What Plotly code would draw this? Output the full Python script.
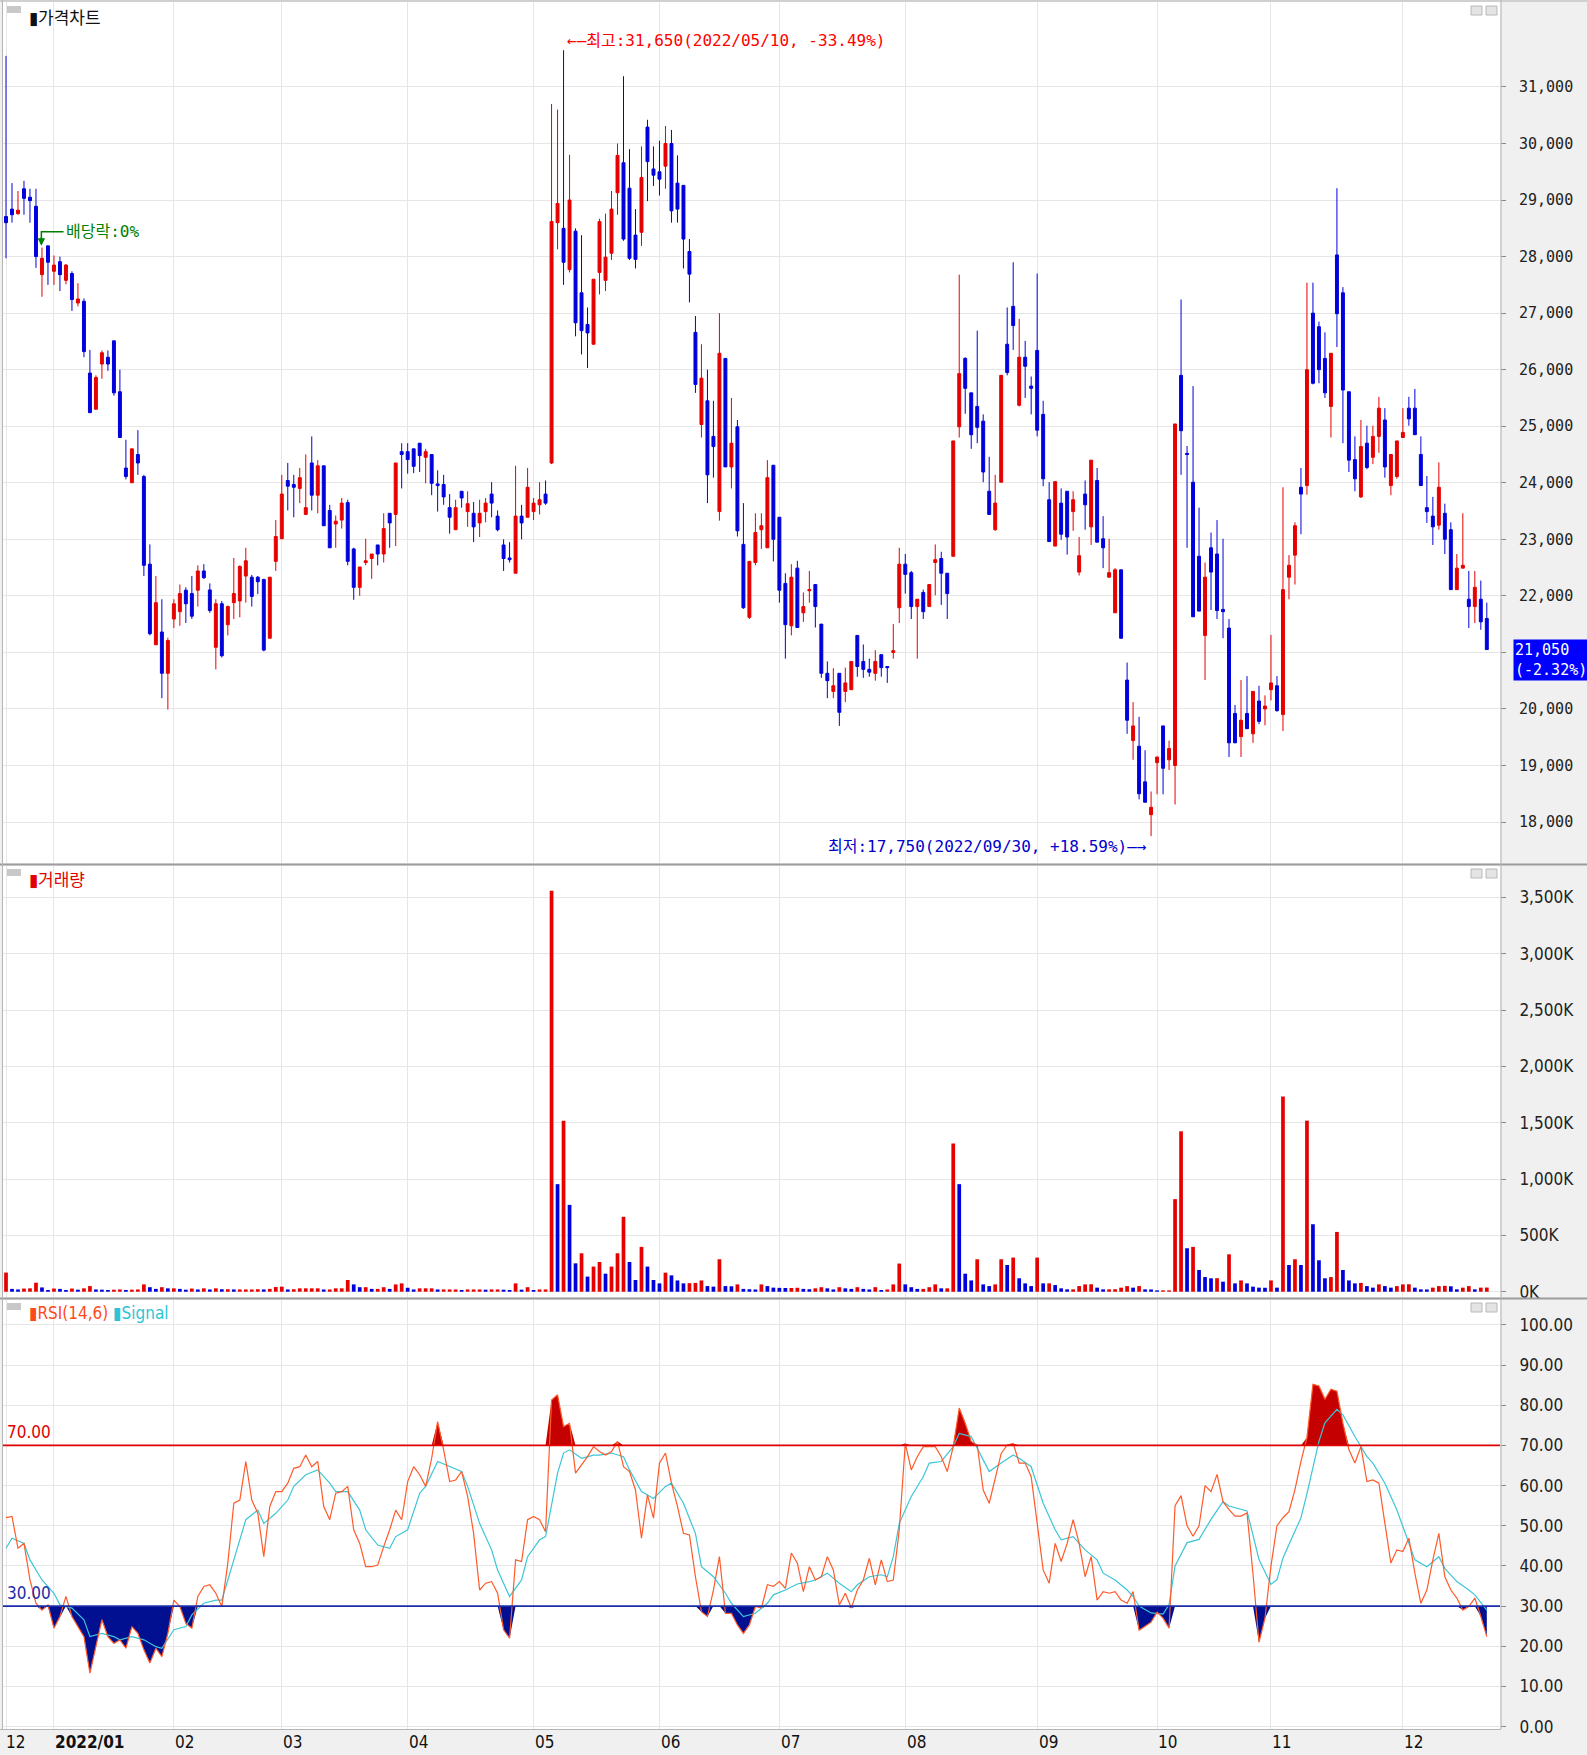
import numpy as np
import plotly.graph_objects as go

# ---------------- DATA ----------------
open_ = [
    28710, 28840, 28760, 29200, 29050, 28890, 27680, 28190, 27740, 27910,
    27580, 27700, 27180, 27210, 25940, 25300, 26100, 26220, 26510, 25610,
    24260, 24000, 24500, 24110, 22560, 21135, 21360, 20630, 21590, 21720,
    22100, 22040, 22100, 22440, 22105, 21090, 21860, 21490, 21880, 21910,
    22350, 22330, 22330, 22290, 21250, 22610, 23010, 24040, 23970, 23900,
    23440, 24350, 23780, 24300, 23510, 23270, 23340, 23650, 22830, 22150,
    22590, 22660, 22900, 22740, 23460, 23440, 24550, 24550, 24600, 24700,
    24450, 24500, 23980, 23970, 23560, 23170, 23850, 23490, 23460, 23290,
    23490, 23800, 23410, 22900, 22670, 22400, 23410, 23390, 23490, 23610,
    23800, 24350, 28600, 28500, 27770, 28450, 27360, 26800, 26450, 27720,
    27580, 28060, 29130, 29660, 29210, 28380, 28430, 30290, 29550, 29500,
    29600, 30000, 29300, 29260, 28090, 26660, 25030, 25450, 24820, 23490,
    26200, 24280, 24990, 22910, 21620, 22590, 23170, 22850, 24310, 23390,
    22220, 21470, 22490, 21700, 22090, 22200, 21500, 20630, 20310, 20630,
    20310, 20340, 21300, 20840, 20700, 20630, 20960, 20750, 21000, 21790,
    22560, 22410, 21810, 22060, 21810, 22590, 22660, 22400, 22700, 24990,
    26200, 25590, 25350, 25090, 23850, 23170, 24010, 26450, 27120, 25370,
    26220, 25710, 26340, 25210, 23700, 22880, 23640, 23850, 23490, 22420,
    23800, 23220, 24040, 23010, 22330, 21700, 22460, 20510, 19440, 19340,
    18710, 18130, 19050, 19700, 19100, 19000, 25900, 24520, 24010, 22700,
    21300, 22850, 22740, 21760, 21430, 19920, 19510, 19920, 19560, 20140,
    20000, 20340, 20410, 19900, 22330, 22720, 23920, 23950, 27000, 26760,
    26200, 25350, 28030, 27360, 25610, 24410, 23750, 24700, 24450, 24820,
    25110, 23950, 24110, 24800, 25320, 25320, 24500, 23560, 23410, 23250,
    23460, 23170, 22110, 22490, 21940, 21810, 21940, 21600,
]
high = [
    31550, 29300, 29160, 29340, 29200, 29200, 28160, 28190, 28020, 28000,
    27870, 27740, 27530, 27260, 26350, 25900, 26340, 26340, 26510, 26000,
    24760, 24600, 24930, 24140, 22910, 22350, 21940, 21260, 21940, 22200,
    22150, 22350, 22540, 22560, 22220, 21940, 21910, 21830, 22670, 22540,
    22850, 22370, 22350, 22300, 22330, 23340, 24140, 24350, 24140, 24260,
    24500, 24820, 24400, 24300, 23610, 23420, 23730, 23700, 22850, 22510,
    23010, 22740, 22900, 23460, 23460, 24350, 24700, 24700, 24600, 24700,
    24600, 24500, 24220, 24140, 23800, 23700, 23850, 23850, 23660, 23700,
    23730, 24010, 23510, 23000, 22950, 24300, 23610, 24260, 23730, 24010,
    24040, 30700, 30600, 31650, 29800, 28500, 28380, 27100, 27600, 28670,
    28760, 29160, 30000, 31190, 29900, 28840, 29950, 30420, 29950, 30050,
    30310, 30240, 29790, 29260, 28310, 26950, 26450, 26000, 25450, 27000,
    26200, 25500, 25110, 23640, 22610, 23460, 23460, 24400, 24310, 23390,
    22400, 22560, 22620, 22060, 22440, 22200, 21500, 20840, 20720, 20630,
    20730, 20840, 21300, 21140, 20890, 21040, 20960, 20750, 21500, 22850,
    22740, 22440, 21940, 22110, 22200, 22910, 22780, 22400, 24740, 27680,
    26220, 25590, 26690, 25210, 24460, 24140, 25900, 27100, 27900, 26900,
    26510, 25880, 27700, 25450, 24010, 24020, 23900, 23850, 23850, 23040,
    24040, 24400, 24260, 23410, 23010, 22490, 22460, 20820, 20120, 19860,
    19270, 18540, 19150, 19700, 19440, 25040, 27240, 24650, 25710, 23560,
    22590, 23120, 23340, 23010, 21590, 20070, 20510, 20580, 20310, 20410,
    20240, 21310, 20580, 23920, 22720, 23300, 24260, 27540, 27540, 26850,
    26660, 26290, 29210, 27460, 25610, 24820, 25110, 25010, 25010, 25520,
    25320, 24500, 24740, 25320, 25520, 25660, 24820, 24120, 23750, 24360,
    23630, 23300, 22740, 23460, 22440, 22440, 22270, 21880,
]
low = [
    27970, 28600, 28740, 28740, 28600, 27800, 27290, 27500, 27500, 27390,
    27510, 27040, 27120, 26220, 25240, 25300, 25840, 25980, 25540, 24800,
    24060, 24000, 24140, 22350, 21300, 21135, 20190, 19990, 21430, 21470,
    21520, 21590, 21810, 22300, 21700, 20700, 20910, 21300, 21590, 21620,
    21880, 21810, 22030, 21020, 21250, 22440, 23010, 23510, 23390, 23640,
    23440, 23510, 23460, 23240, 22850, 22850, 23190, 22540, 21930, 22000,
    22540, 22300, 22540, 22590, 22850, 22880, 23900, 24160, 24170, 24190,
    23990, 23780, 23490, 23610, 23100, 23170, 23560, 23220, 22950, 23040,
    23300, 23390, 23140, 22440, 22590, 22400, 23000, 23390, 23340, 23440,
    23610, 24330, 28130, 27500, 27720, 26590, 26270, 26030, 26450, 27330,
    27390, 27940, 28740, 28280, 27940, 27790, 28190, 28980, 29250, 29080,
    29200, 28600, 28600, 27790, 27190, 25590, 24800, 23640, 24090, 23330,
    24280, 23900, 23050, 21770, 21590, 22540, 22830, 22850, 22610, 21880,
    20890, 21300, 21440, 21540, 21880, 21440, 20550, 20190, 20190, 19700,
    20120, 20340, 20570, 20550, 20570, 20500, 20570, 20460, 20890, 21520,
    22040, 21590, 20890, 21590, 21810, 22010, 21840, 21590, 22700, 24800,
    25220, 24600, 24700, 24010, 23440, 23150, 24010, 25900, 26350, 25350,
    25500, 25210, 24820, 23940, 22960, 22880, 22990, 22730, 23150, 22360,
    23170, 22900, 22950, 22490, 22330, 21700, 21250, 19560, 19100, 18400,
    18350, 17750, 18490, 18490, 18920, 18310, 24140, 22850, 21630, 21730,
    20510, 21750, 21590, 21250, 19150, 19400, 19150, 19650, 19400, 19730,
    19710, 20150, 19950, 19610, 21940, 22200, 23090, 23790, 25740, 25760,
    25500, 24800, 26400, 24700, 24190, 23850, 23730, 24240, 24330, 24530,
    24090, 23780, 24070, 24800, 25010, 24850, 23950, 23290, 22900, 23170,
    22740, 22110, 22110, 22490, 21430, 21520, 21400, 21050,
]
close = [
    28600, 28740, 28820, 29030, 28990, 28000, 27970, 27900, 27850, 27680,
    27850, 27240, 27250, 26320, 25240, 25860, 26300, 26100, 25590, 24800,
    24110, 24600, 24350, 22540, 21330, 21880, 20630, 21210, 21860, 22040,
    21860, 21640, 22440, 22320, 21740, 21860, 20940, 21810, 22040, 22520,
    22620, 21990, 22250, 21040, 22330, 23050, 23800, 23940, 23920, 24090,
    23560, 23780, 24300, 23240, 22850, 23320, 23640, 22610, 22150, 22510,
    22620, 22740, 22740, 23190, 23290, 24350, 24500, 24410, 24290, 24480,
    24550, 23990, 23950, 23750, 23390, 23560, 23730, 23630, 23220, 23460,
    23640, 23640, 23170, 22660, 22640, 23410, 23290, 23920, 23640, 23700,
    23640, 28620, 28940, 27900, 29000, 26830, 26690, 26650, 27600, 28620,
    27990, 28840, 29790, 28310, 27970, 27950, 29400, 29680, 29440, 29370,
    30000, 28810, 28840, 28310, 27690, 25740, 25850, 24140, 24640, 26290,
    24280, 24700, 23150, 21790, 22610, 23120, 23240, 24090, 23000, 22100,
    21490, 22330, 21440, 21810, 22110, 21810, 20630, 20500, 20410, 19940,
    20460, 20840, 20750, 20700, 20650, 20840, 20730, 20730, 21030, 22560,
    22380, 21810, 21940, 21720, 22200, 22640, 22400, 22040, 24740, 25930,
    25670, 24850, 24980, 24190, 23440, 23640, 25900, 25950, 26780, 26220,
    26060, 25670, 24930, 24070, 22960, 24020, 23090, 23040, 23700, 22710,
    23610, 24400, 22950, 22850, 22410, 22460, 21250, 19800, 19700, 18500,
    18350, 18260, 19150, 18950, 19300, 25040, 24920, 24500, 21630, 21730,
    22330, 22420, 21740, 21720, 19400, 19400, 19800, 19650, 20310, 19780,
    20050, 20460, 19970, 22110, 22540, 23240, 23800, 26000, 25760, 26000,
    25590, 26290, 26990, 25640, 24400, 24070, 24640, 24270, 24820, 25320,
    24280, 24500, 24740, 24890, 25130, 24850, 23950, 23490, 23220, 23920,
    23000, 22110, 22490, 22540, 21810, 22150, 21540, 21050,
]
volume_k = [
    170, 25, 20, 28, 30, 80, 38, 15, 28, 25,
    15, 28, 18, 30, 50, 20, 18, 15, 18, 20,
    15, 18, 20, 65, 40, 25, 40, 30, 30, 25,
    18, 28, 20, 30, 20, 30, 22, 22, 20, 20,
    20, 20, 22, 20, 25, 42, 45, 20, 22, 30,
    30, 30, 30, 20, 20, 30, 30, 104, 65, 40,
    40, 25, 25, 40, 25, 65, 74, 35, 20, 30,
    30, 30, 20, 20, 20, 20, 15, 20, 20, 20,
    18, 20, 20, 18, 15, 74, 18, 40, 15, 20,
    20, 3560, 955, 1519, 771, 252, 341, 134, 223, 264,
    160, 223, 341, 665, 264, 104, 398, 223, 104, 74,
    169, 145, 100, 74, 76, 78, 100, 50, 45, 288,
    50, 48, 65, 25, 22, 20, 65, 50, 36, 34,
    33, 33, 35, 25, 22, 30, 40, 30, 20, 40,
    30, 25, 40, 25, 20, 40, 15, 20, 65, 250,
    65, 40, 25, 25, 40, 65, 30, 30, 1317, 955,
    160, 100, 288, 65, 50, 65, 288, 237, 303, 119,
    74, 50, 303, 74, 74, 59, 30, 21, 21, 50,
    65, 66, 36, 21, 21, 22, 36, 50, 36, 50,
    21, 20, 12, 12, 12, 822, 1424, 386, 398, 193,
    130, 119, 120, 89, 332, 74, 100, 74, 45, 36,
    35, 100, 36, 1733, 237, 288, 237, 1519, 599, 279,
    119, 130, 531, 193, 100, 74, 78, 50, 36, 65,
    50, 36, 50, 65, 66, 36, 21, 20, 36, 50,
    52, 48, 21, 36, 50, 21, 36, 37,
]
rsi = [
    52, 52.3, 44.4, 45.6, 36.5, 30.7, 29, 30.3, 24.5, 27.4,
    32.4, 27.4, 24.9, 22.4, 13.3, 19.9, 26.6, 22.4, 20.7, 21.6,
    19.5, 24.9, 23.2, 19.1, 15.8, 19.5, 17.4, 23.2, 31.5, 29.9,
    25.7, 24.5, 32.4, 34.9, 35.3, 33.2, 29.9, 40.7, 55.6, 56.4,
    66, 56.4, 53.1, 42.3, 54.8, 58.5, 58.5, 60.6, 64.3, 64.7,
    67.6, 64.7, 66, 54.8, 51.5, 58.1, 58.5, 59.8, 49, 45.6,
    39.8, 39.8, 40.2, 44.8, 49, 53.9, 51.5, 61, 64.7, 62.7,
    59.8, 66.8, 75.9, 68.9, 61, 61.4, 63.5, 57.3, 48.1, 34,
    35.7, 36.1, 33.2, 24.1, 22, 41.5, 41.1, 51.5, 52.3, 51.5,
    48.5, 81.3, 82.6, 74.7, 75.5, 63.1, 65.1, 67.2, 69.7, 68.5,
    67.6, 68.5, 71, 64.7, 63.5, 58.9, 46.9, 57.7, 51.9, 65.6,
    68.1, 60.6, 54.8, 48.1, 47.7, 37.3, 28.6, 27.4, 34, 42.3,
    28.2, 28.2, 25.3, 23.2, 25.3, 29.9, 29.5, 35.3, 34.9, 36.1,
    34.4, 43.2, 40.7, 33.6, 39.8, 36.5, 37.3, 42.3, 39, 30.3,
    33.2, 29.5, 34, 36.5, 41.9, 35.3, 41.5, 36.1, 36.5, 49,
    70.5, 63.9, 67.2, 69.7, 69.7, 69.7, 67.2, 63.5, 69.7, 79.3,
    75.5, 71, 70.1, 58.9, 55.6, 62.2, 68, 70.1, 70.5, 65.6,
    65.6, 62.2, 50.6, 39, 35.7, 45.6, 41.1, 45.6, 51.5, 45.6,
    37.3, 42.3, 31.5, 33.6, 33.2, 33.6, 31.5, 30.7, 33.6, 24,
    25, 26, 28.5, 27, 24.5, 55, 57.5, 50, 47.4, 50,
    60, 58.5, 62.8, 56, 54, 52.4, 52.4, 53.2, 38, 21,
    27, 40, 50, 52, 53.5, 59, 66, 72, 85.2, 84.8,
    81.5, 84, 83.5, 75.5, 68.9, 65.6, 69.7, 61, 61.4, 60.6,
    50.6, 40.7, 44, 43.6, 46.9, 38.2, 30.7, 34, 41.5, 48.1,
    37.3, 34, 32, 29, 29.9, 32, 27.4, 22.4,
]
signal_idx = [
    0, 1, 3, 4, 6, 8, 9, 11, 13, 14, 16, 18, 19, 21, 23, 25, 26, 28, 30, 31,
    33, 35, 36, 38, 40, 42, 43, 45, 47, 48, 50, 52, 54, 55, 57, 59, 60, 62, 64, 65,
    67, 69, 70, 72, 74, 76, 77, 79, 81, 82, 84, 86, 87, 89, 90, 92, 93, 94, 96, 98,
    99, 101, 103, 104, 106, 108, 110, 111, 113, 115, 116, 118, 120, 121, 123, 125, 127, 128, 130, 132,
    134, 135, 137, 139, 141, 142, 144, 146, 147, 148, 149, 151, 153, 154, 156, 158, 159, 161, 163, 164,
    166, 168, 169, 171, 173, 175, 176, 178, 180, 182, 183, 185, 187, 188, 189, 191, 193, 194, 195, 197,
    199, 201, 203, 204, 207, 209, 211, 212, 213, 216, 217, 219, 220, 222, 223, 225, 227, 228, 230, 232,
    233, 235, 237, 239, 240, 242, 244, 245, 247,
]
signal_val = [
    44.4, 46.9, 45.6, 41.5, 36.5, 33.2, 30.3, 29.5, 26.6, 22.4, 23.2, 22.4, 21.6, 22.4, 21.6, 19.9, 19.5, 24.1, 24.9, 27.8,
    30.7, 31.5, 31.5, 41.5, 51.5, 53.9, 50.6, 53.1, 56.4, 59.8, 62.7, 63.9, 60.6, 58.5, 58.5, 53.9, 49, 45.2, 44.4, 47.3,
    49, 58.1, 59.8, 66, 64.7, 63.5, 59.8, 50.6, 44, 39, 32.4, 36.5, 42.3, 46.5, 47.3, 63.1, 68.1, 68.9, 66.8, 67.6,
    67.6, 68.1, 67.2, 63.9, 58.5, 56.8, 59.8, 60.6, 55.6, 48.1, 39.8, 37.3, 33.2, 30.7, 27.4, 28.2, 30.7, 32.8, 34, 35.5,
    36.1, 36.5, 38.2, 35.7, 33.6, 35.3, 37.3, 37.8, 37.3, 42.3, 50.6, 57.3, 62.2, 65.6, 66, 69.7, 73, 72.2, 66.4, 63.5,
    65.6, 67.6, 66.8, 64.7, 55.6, 49, 46.5, 47.3, 44, 41.5, 38.2, 36.5, 34, 32.4, 30, 28.3, 28, 30.4, 40, 45.8,
    46.6, 51.6, 56, 54.9, 53.7, 41.6, 35.4, 36.6, 42, 52, 58, 71, 75.6, 79, 77.6, 72.2, 67.2, 65.6, 60.6, 53.9,
    49.8, 41.5, 39.8, 42.3, 39.4, 36.1, 34, 32.8, 29,
]
month_idx = [0, 8, 28, 46, 67, 88, 109, 129, 150, 172, 192, 211, 233]
month_labels = ["12", "2022/01", "02", "03", "04", "05", "06", "07", "08", "09", "10", "11", "12"]
price_ticks = list(range(18000, 31001, 1000))
volume_ticks_k = list(range(0, 3501, 500))
rsi_ticks = list(range(0, 101, 10))
last_price = 21050
last_change_pct = -2.32

# ---------------- STYLE / GEOMETRY ----------------
RED = "#e60000"
BLUE = "#0000dc"
GRID = "#e6e6e6"
MONO = "DejaVu Sans Mono, Noto Sans CJK KR, monospace"
COND = "DejaVu Sans Condensed, DejaVu Sans, sans-serif"
KR = "Noto Sans CJK KR, sans-serif"

W, H = 1587, 1755
ML, MR, MT, MB = 3, 87, 2, 26
PW = W - ML - MR
PH = H - MT - MB


def PX(fx):
    return (fx - ML) / PW


def PY(fy):
    return (H - MB - fy) / PH


n = len(close)
idx = list(range(n))
XR = [-0.5, 249.2]

fig = go.Figure()

# price candles
fig.add_trace(go.Candlestick(
    x=idx, open=open_, high=high, low=low, close=close,
    xaxis="x", yaxis="y",
    increasing=dict(line=dict(color=RED, width=1), fillcolor=RED),
    decreasing=dict(line=dict(color=BLUE, width=1), fillcolor=BLUE),
    whiskerwidth=0, hoverinfo="skip", showlegend=False,
))

# volume bars (red when volume rose vs previous day, blue when it fell)
vcolors = [RED if (i == 0 or volume_k[i] >= volume_k[i - 1]) else BLUE for i in range(n)]
fig.add_trace(go.Bar(
    x=idx, y=volume_k, marker=dict(color=vcolors, line=dict(width=0)),
    width=0.62, xaxis="x2", yaxis="y2", hoverinfo="skip", showlegend=False,
))

# RSI fills
rsi_arr = np.array(rsi, dtype=float)
fig.add_trace(go.Scatter(x=idx, y=[70] * n, mode="lines", line=dict(width=0, color="rgba(0,0,0,0)"),
                         xaxis="x3", yaxis="y3", hoverinfo="skip", showlegend=False))
fig.add_trace(go.Scatter(x=idx, y=np.maximum(rsi_arr, 70), mode="lines", line=dict(width=0, color="rgba(0,0,0,0)"),
                         fill="tonexty", fillcolor="#c40000",
                         xaxis="x3", yaxis="y3", hoverinfo="skip", showlegend=False))
fig.add_trace(go.Scatter(x=idx, y=[30] * n, mode="lines", line=dict(width=0, color="rgba(0,0,0,0)"),
                         xaxis="x3", yaxis="y3", hoverinfo="skip", showlegend=False))
fig.add_trace(go.Scatter(x=idx, y=np.minimum(rsi_arr, 30), mode="lines", line=dict(width=0, color="rgba(0,0,0,0)"),
                         fill="tonexty", fillcolor="#001090",
                         xaxis="x3", yaxis="y3", hoverinfo="skip", showlegend=False))
# signal and RSI lines
fig.add_trace(go.Scatter(x=signal_idx, y=signal_val, mode="lines", line=dict(width=1.2, color="#3cc6d6"),
                         xaxis="x3", yaxis="y3", hoverinfo="skip", showlegend=False))
fig.add_trace(go.Scatter(x=idx, y=rsi, mode="lines", line=dict(width=1.2, color="#ff5a2a"),
                         xaxis="x3", yaxis="y3", hoverinfo="skip", showlegend=False))

xcommon = dict(range=XR, tickvals=month_idx, showticklabels=False, showgrid=True,
               gridcolor=GRID, gridwidth=1, zeroline=False, showline=False, ticks="",
               fixedrange=True)
ycommon = dict(side="right", ticks="outside", ticklen=5, tickcolor="#888888", showgrid=True,
               gridcolor=GRID, gridwidth=1, zeroline=False, showline=False, fixedrange=True,
               ticklabelstandoff=10)

# the last-price tag covers the 21,000 label in the reference
price_ticktext = ["" if v == 21000 else f"{v:,}" for v in price_ticks]

fig.update_layout(
    width=W, height=H, autosize=False,
    margin=dict(l=ML, r=MR, t=MT, b=MB, pad=0),
    paper_bgcolor="#f0f0f0", plot_bgcolor="#ffffff",
    showlegend=False,
    xaxis=dict(domain=[0, 1], anchor="y", rangeslider=dict(visible=False), **xcommon),
    xaxis2=dict(domain=[0, 1], anchor="y2", matches="x", **xcommon),
    xaxis3=dict(domain=[0, 1], anchor="y3", matches="x", **xcommon),
    yaxis=dict(domain=[PY(863), PY(2)], anchor="x", range=[17275, 32503],
               tickvals=price_ticks, ticktext=price_ticktext,
               tickfont=dict(family=MONO, size=15, color="#222222"), **ycommon),
    yaxis2=dict(domain=[PY(1297), PY(866)], anchor="x2", range=[-47, 3780],
                tickvals=volume_ticks_k, ticktext=[f"{v:,}K" for v in volume_ticks_k],
                tickfont=dict(family=COND, size=17, color="#222222"), **ycommon),
    yaxis3=dict(domain=[0, PY(1300)], anchor="x3", range=[-0.6, 106.2],
                tickvals=rsi_ticks, ticktext=[f"{v:.2f}" for v in rsi_ticks],
                tickfont=dict(family=COND, size=17, color="#222222"), **ycommon),
)

shapes = []
# RSI reference lines
shapes.append(dict(type="line", xref="x3 domain", yref="y3", x0=0, x1=1, y0=70, y1=70,
                   line=dict(color="#e00000", width=1.6)))
shapes.append(dict(type="line", xref="x3 domain", yref="y3", x0=0, x1=1, y0=30, y1=30,
                   line=dict(color="#1c2ca8", width=1.6)))
# panel separators and borders
for fy in (864.5, 1298.5):
    shapes.append(dict(type="line", xref="paper", yref="paper", x0=PX(0), x1=PX(W), y0=PY(fy), y1=PY(fy),
                       line=dict(color="#9c9c9c", width=2)))
shapes.append(dict(type="line", xref="paper", yref="paper", x0=PX(0), x1=PX(W), y0=PY(1), y1=PY(1),
                   line=dict(color="#b0b0b0", width=1)))
shapes.append(dict(type="line", xref="paper", yref="paper", x0=PX(1501), x1=PX(1501), y0=PY(0), y1=PY(1729),
                   line=dict(color="#b4b4b4", width=1)))
shapes.append(dict(type="line", xref="paper", yref="paper", x0=PX(2.5), x1=PX(2.5), y0=PY(0), y1=PY(1729),
                   line=dict(color="#b4b4b4", width=1)))
shapes.append(dict(type="line", xref="paper", yref="paper", x0=PX(0), x1=PX(1501), y0=PY(1729.5), y1=PY(1729.5),
                   line=dict(color="#b4b4b4", width=1)))
# little panel icons (left gray tab, right min/close boxes)
for top in (6, 869, 1303):
    shapes.append(dict(type="rect", xref="paper", yref="paper", x0=PX(7), x1=PX(21), y0=PY(top + 7), y1=PY(top),
                       fillcolor="#c8c8c8", line=dict(width=0)))
    for x0 in (1471, 1486):
        shapes.append(dict(type="rect", xref="paper", yref="paper", x0=PX(x0), x1=PX(x0 + 11),
                           y0=PY(top + 9), y1=PY(top), fillcolor="#e4e4e4",
                           line=dict(color="#b8b8b8", width=1)))
# ex-dividend marker (elbow arrow)
shapes.append(dict(type="path", xref="x", yref="y",
                   path="M 9.6,28440 L 5.9,28440 L 5.9,28230",
                   line=dict(color="#008000", width=1.5)))
fig.update_layout(shapes=shapes)

ann = []
ann.append(dict(xref="paper", yref="paper", x=PX(27), y=PY(16), xanchor="left", yanchor="middle",
                text="▮가격차트", showarrow=False, font=dict(family=KR, size=17, color="#111111")))
ann.append(dict(xref="paper", yref="paper", x=PX(27), y=PY(879), xanchor="left", yanchor="middle",
                text="▮거래량", showarrow=False, font=dict(family=KR, size=17, color="#e00000")))
ann.append(dict(xref="paper", yref="paper", x=PX(27), y=PY(1313), xanchor="left", yanchor="middle",
                text="<span style='color:#ff4a1a'>▮RSI(14,6)</span> <span style='color:#2cc4d4'>▮Signal</span>",
                showarrow=False, font=dict(family=COND, size=17)))
# high / low annotations
ann.append(dict(xref="x", yref="y", x=93.2, y=31830, xanchor="left", yanchor="middle",
                text="←—최고:31,650(2022/05/10, -33.49%)", showarrow=False,
                font=dict(family=MONO, size=16, color="#ff0000")))
ann.append(dict(xref="x", yref="y", x=190.6, y=17575, xanchor="right", yanchor="middle",
                text="최저:17,750(2022/09/30, +18.59%)—→", showarrow=False,
                font=dict(family=MONO, size=16, color="#0000cc")))
ann.append(dict(xref="x", yref="y", x=9.6, y=28440, xanchor="left", yanchor="middle",
                text="배당락:0%", showarrow=False, font=dict(family=MONO, size=16, color="#008000")))
ann.append(dict(xref="x", yref="y", x=5.9, y=28190, ax=0, ay=-10, text="", showarrow=True,
                arrowhead=2, arrowsize=1, arrowwidth=1.5, arrowcolor="#008000"))
# last price tag
ann.append(dict(xref="paper", yref="y", x=PX(1513), y=last_price, xanchor="left", yanchor="top", yshift=11,
                text=f"{last_price:,}<br>({last_change_pct:.2f}%)", showarrow=False, align="left",
                bgcolor="#0000ff", borderpad=1, font=dict(family=MONO, size=15, color="#ffffff")))
# RSI level labels
ann.append(dict(xref="paper", yref="y3", x=PX(5), y=70, xanchor="left", yanchor="bottom", yshift=1,
                text="70.00", showarrow=False, font=dict(family=COND, size=17, color="#e00000")))
ann.append(dict(xref="paper", yref="y3", x=PX(5), y=30, xanchor="left", yanchor="bottom", yshift=1,
                text="30.00", showarrow=False, font=dict(family=COND, size=17, color="#1c2ca8")))
# month labels
for mi, lab in zip(month_idx, month_labels):
    bold = lab.startswith("2022")
    ann.append(dict(xref="x3", yref="paper", x=(mi - 0.1) if mi > 0 else -0.35, y=PY(1742),
                    xanchor="left", yanchor="middle",
                    text=f"<b>{lab}</b>" if bold else lab, showarrow=False,
                    font=dict(family=COND, size=17, color="#111111")))
fig.update_layout(annotations=ann)

fig.write_html(
    "out.html",
    config={"displayModeBar": False, "staticPlot": True},
    post_script="document.body.style.margin='0';document.body.style.padding='0';"
                "document.body.style.overflow='hidden';",
)
